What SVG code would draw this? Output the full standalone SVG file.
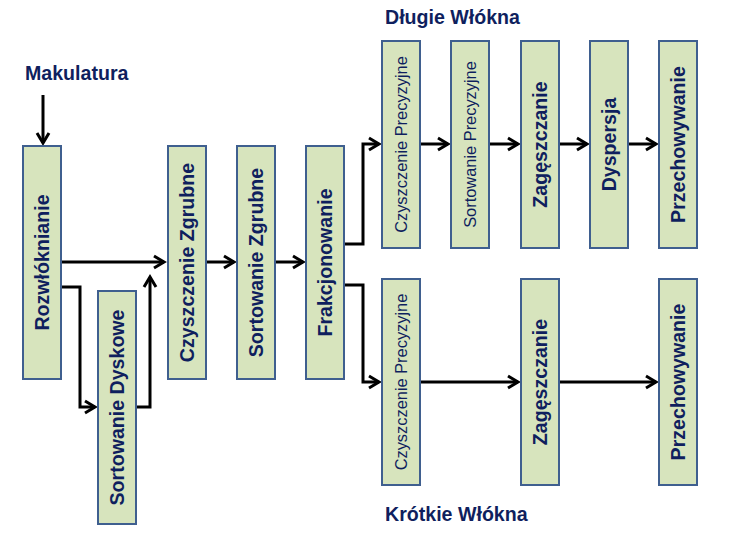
<svg xmlns="http://www.w3.org/2000/svg" width="740" height="556" viewBox="0 0 740 556">
<style>
.box{fill:#D7E4BD;stroke:#3F5F8F;stroke-width:2}
.t{font-family:"Liberation Sans",Arial,sans-serif;font-weight:bold;font-size:19.6px;fill:#0F1F5E;text-anchor:middle}
.s{font-family:"Liberation Sans",Arial,sans-serif;font-size:16.4px;fill:#0F1F5E;text-anchor:middle}
.title{font-family:"Liberation Sans",Arial,sans-serif;font-weight:bold;font-size:19.6px;fill:#0F1F5E}
.c{fill:none;stroke:#000;stroke-width:3;marker-end:url(#ah)}
</style>
<defs>
<marker id="ah" markerUnits="userSpaceOnUse" markerWidth="30" markerHeight="30" viewBox="-15 -15 30 30" refX="0" refY="0" orient="auto">
<path d="M-10,-6 L0,0 L-10,6" fill="none" stroke="#000" stroke-width="3" stroke-linejoin="miter"/>
</marker>
</defs>
<rect width="740" height="556" fill="#fff"/>
<text class="title" x="25" y="80">Makulatura</text>
<text class="title" x="385" y="24">Długie Włókna</text>
<text class="title" x="385" y="521">Krótkie Włókna</text>
<g id="connectors">
<path class="c" d="M43,95 V143"/>
<path class="c" d="M61,262 H164"/>
<path class="c" d="M61,287 H80 V407 H95"/>
<path class="c" d="M136,407 H150 V277"/>
<path class="c" d="M206,262 H234"/>
<path class="c" d="M275,262 H303"/>
<path class="c" d="M344,244 H363 V144 H379"/>
<path class="c" d="M344,285 H363 V382 H379"/>
<path class="c" d="M420,144 H448"/>
<path class="c" d="M489,144 H518"/>
<path class="c" d="M558,144 H587"/>
<path class="c" d="M628,144 H656"/>
<path class="c" d="M420,382 H518"/>
<path class="c" d="M558,382 H656"/>
</g>
<g id="rozwlooknianie"><rect class="box" x="23" y="146" width="38" height="233"/><text class="t" transform="translate(42,262.5) rotate(-90)" dy="7">Rozwłóknianie</text></g>
<g id="sortowanie-dyskowe"><rect class="box" x="98" y="291" width="38" height="233"/><text class="t" transform="translate(117,407.5) rotate(-90)" dy="7">Sortowanie Dyskowe</text></g>
<g id="czyszczenie-zgrubne"><rect class="box" x="168" y="146" width="38" height="233"/><text class="t" transform="translate(187,262.5) rotate(-90)" dy="7">Czyszczenie Zgrubne</text></g>
<g id="sortowanie-zgrubne"><rect class="box" x="237" y="146" width="38" height="233"/><text class="t" transform="translate(256,262.5) rotate(-90)" dy="7">Sortowanie Zgrubne</text></g>
<g id="frakcjonowanie"><rect class="box" x="306" y="146" width="38" height="233"/><text class="t" transform="translate(325,262.5) rotate(-90)" dy="7">Frakcjonowanie</text></g>
<g id="dl-czyszczenie"><rect class="box" x="382" y="41" width="38" height="207"/><text class="s" transform="translate(401,144.5) rotate(-90)" dy="6">Czyszczenie Precyzyjne</text></g>
<g id="dl-sortowanie"><rect class="box" x="451" y="41" width="38" height="207"/><text class="s" transform="translate(470,144.5) rotate(-90)" dy="6">Sortowanie Precyzyjne</text></g>
<g id="dl-zageszczanie"><rect class="box" x="521" y="41" width="38" height="207"/><text class="t" transform="translate(540,144.5) rotate(-90)" dy="7">Zagęszczanie</text></g>
<g id="dl-dyspersja"><rect class="box" x="590" y="41" width="38" height="207"/><text class="t" transform="translate(609,144.5) rotate(-90)" dy="7">Dyspersja</text></g>
<g id="dl-przechowywanie"><rect class="box" x="659" y="41" width="38" height="207"/><text class="t" transform="translate(678,144.5) rotate(-90)" dy="7">Przechowywanie</text></g>
<g id="kr-czyszczenie"><rect class="box" x="382" y="279" width="38" height="206"/><text class="s" transform="translate(401,382) rotate(-90)" dy="6">Czyszczenie Precyzyjne</text></g>
<g id="kr-zageszczanie"><rect class="box" x="521" y="279" width="38" height="206"/><text class="t" transform="translate(540,382) rotate(-90)" dy="7">Zagęszczanie</text></g>
<g id="kr-przechowywanie"><rect class="box" x="659" y="279" width="38" height="206"/><text class="t" transform="translate(678,382) rotate(-90)" dy="7">Przechowywanie</text></g>
</svg>
